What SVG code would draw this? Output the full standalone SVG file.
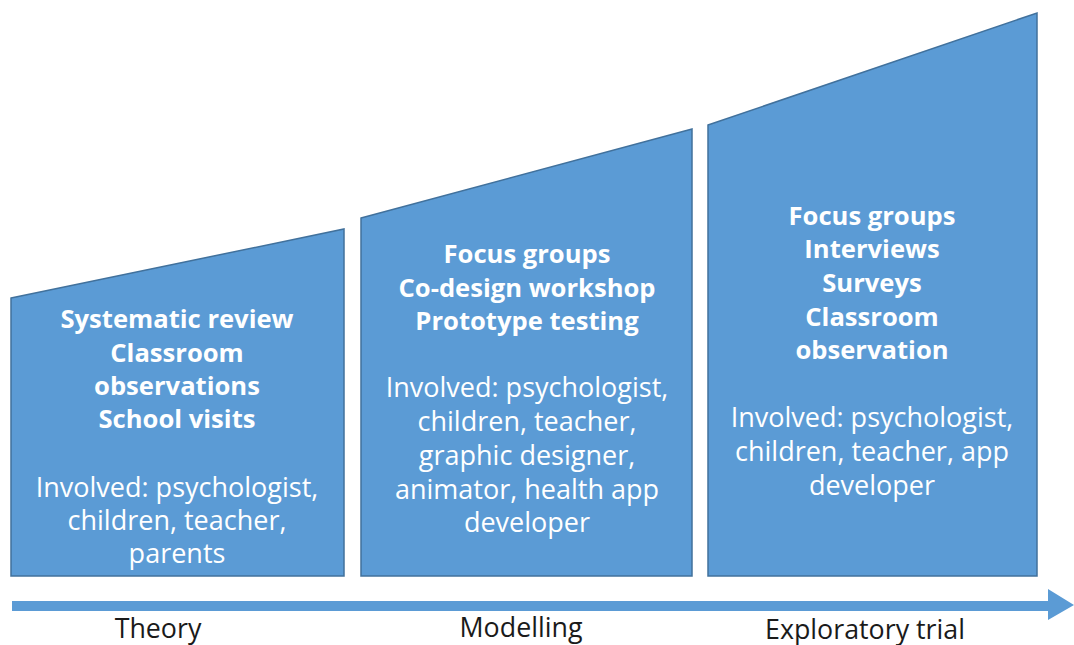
<svg xmlns="http://www.w3.org/2000/svg" width="1074" height="645" viewBox="0 0 1074 645">
<style>
.shape{fill:#5B9BD5;stroke:#41719C;stroke-width:1.5;stroke-linejoin:miter}
.b{font-family:"Open Sans",Lato,sans-serif;font-weight:bold;font-size:25.6px;fill:#ffffff;text-anchor:middle}
.r{font-family:"Open Sans",Lato,sans-serif;font-size:27px;fill:#ffffff;text-anchor:middle}
.lbl{font-family:"Open Sans",Lato,sans-serif;font-size:26.8px;fill:#1a1a1a;text-anchor:middle}
</style>
<rect width="1074" height="645" fill="#ffffff"/>
<g id="connectors">
<path d="M12,601 L1048,601 L1048,589 L1074,605 L1048,620 L1048,611 L12,611 Z" fill="#5B9BD5"/>
</g>
<g id="theory">
<polygon class="shape" points="11,298 344,229 344,576 11,576"/>
<text class="b" x="177" y="328">Systematic review</text>
<text class="b" x="177" y="362">Classroom</text>
<text class="b" x="177" y="395">observations</text>
<text class="b" x="177" y="428">School visits</text>
<text class="r" x="177" y="497">Involved: psychologist,</text>
<text class="r" x="177" y="530">children, teacher,</text>
<text class="r" x="177" y="563">parents</text>
<text class="lbl" x="158" y="638">Theory</text>
</g>
<g id="modelling">
<polygon class="shape" points="361,218 692,129 692,576 361,576"/>
<text class="b" x="527" y="263">Focus groups</text>
<text class="b" x="527" y="297">Co-design workshop</text>
<text class="b" x="527" y="330">Prototype testing</text>
<text class="r" x="527" y="397">Involved: psychologist,</text>
<text class="r" x="527" y="431">children, teacher,</text>
<text class="r" x="527" y="465">graphic designer,</text>
<text class="r" x="527" y="499">animator, health app</text>
<text class="r" x="527" y="532">developer</text>
<text class="lbl" x="521" y="637">Modelling</text>
</g>
<g id="exploratory">
<polygon class="shape" points="708,125 1037,13 1037,576 708,576"/>
<text class="b" x="872" y="225">Focus groups</text>
<text class="b" x="872" y="258">Interviews</text>
<text class="b" x="872" y="292">Surveys</text>
<text class="b" x="872" y="326">Classroom</text>
<text class="b" x="872" y="359">observation</text>
<text class="r" x="872" y="427">Involved: psychologist,</text>
<text class="r" x="872" y="461">children, teacher, app</text>
<text class="r" x="872" y="495">developer</text>
<text class="lbl" x="865" y="639">Exploratory trial</text>
</g>
</svg>
